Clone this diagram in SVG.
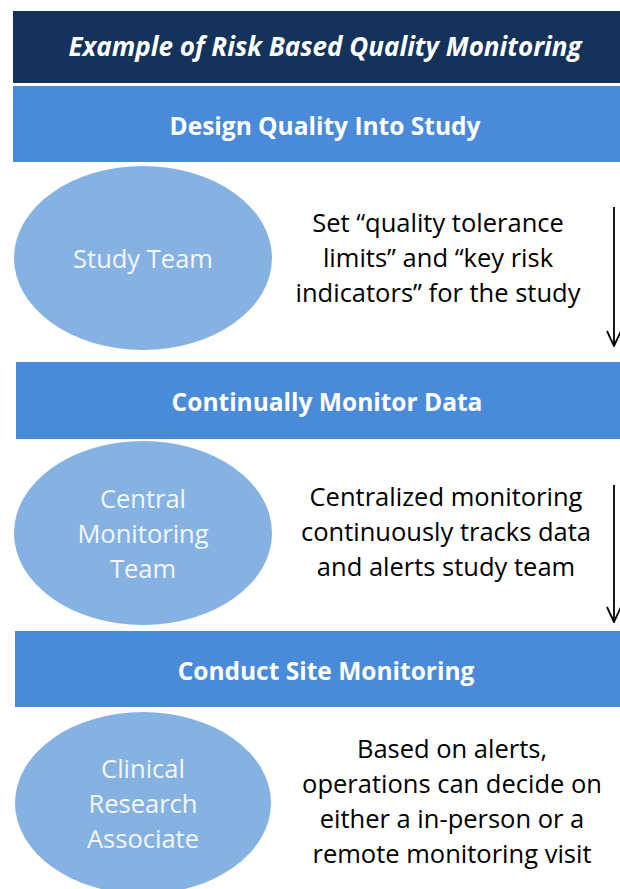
<svg xmlns="http://www.w3.org/2000/svg" width="620" height="889" viewBox="0 0 620 889">
  <style>
    .title { fill: #15335a; }
    .band { fill: #4a8bd9; }
    .oval { fill: #85b2e3; }
    .title-text { font-family: "Open Sans", "Noto Sans", sans-serif; font-size: 26px; font-weight: bold; font-style: italic; fill: #ffffff; text-anchor: middle; }
    .band-text { font-family: "Open Sans", "Noto Sans", sans-serif; font-size: 24.5px; font-weight: bold; fill: #ffffff; text-anchor: middle; }
    .oval-text { font-family: "Open Sans", "Noto Sans", sans-serif; font-size: 25.5px; fill: #f4f7fc; text-anchor: middle; }
    .note { font-family: "Open Sans", "Noto Sans", sans-serif; font-size: 25.5px; fill: #000000; text-anchor: middle; }
    .flow { stroke: #000000; stroke-width: 1.8; fill: none; }
  </style>
  <defs>
    <!-- open V arrowhead, drawn pointing along +x -->
    <marker id="vhead" viewBox="0 0 18 16" refX="17" refY="8" markerWidth="18" markerHeight="16" markerUnits="userSpaceOnUse" orient="auto">
      <path d="M2,1 L17,8 L2,15" fill="none" stroke="#000" stroke-width="1.8"/>
    </marker>
  </defs>

  <rect width="620" height="889" fill="#ffffff"/>

  <g id="title">
    <rect class="title" x="13" y="11" width="607" height="72"/>
    <text class="title-text" x="325" y="56">Example of Risk Based Quality Monitoring</text>
  </g>

  <g id="design-quality">
    <rect class="band" x="13" y="86" width="607" height="76"/>
    <text class="band-text" x="325" y="135">Design Quality Into Study</text>
  </g>

  <g id="study-team">
    <ellipse class="oval" cx="143" cy="258" rx="129" ry="92"/>
    <text class="oval-text" x="143" y="268">Study Team</text>
  </g>

  <g id="set-limits">
    <text class="note" x="438" y="232">Set “quality tolerance</text>
    <text class="note" x="438" y="267">limits” and “key risk</text>
    <text class="note" x="438" y="302">indicators” for the study</text>
  </g>

  <g id="monitor-data">
    <rect class="band" x="16" y="362" width="604" height="77"/>
    <text class="band-text" x="327" y="411">Continually Monitor Data</text>
  </g>

  <g id="central-team">
    <ellipse class="oval" cx="143" cy="533" rx="129" ry="92"/>
    <text class="oval-text" x="143" y="508">Central</text>
    <text class="oval-text" x="143" y="543">Monitoring</text>
    <text class="oval-text" x="143" y="578">Team</text>
  </g>

  <g id="centralized-note">
    <text class="note" x="446" y="506">Centralized monitoring</text>
    <text class="note" x="446" y="541">continuously tracks data</text>
    <text class="note" x="446" y="576">and alerts study team</text>
  </g>

  <g id="site-monitoring">
    <rect class="band" x="15" y="631" width="605" height="76"/>
    <text class="band-text" x="326" y="680">Conduct Site Monitoring</text>
  </g>

  <g id="cra">
    <ellipse class="oval" cx="143" cy="803" rx="128" ry="91"/>
    <text class="oval-text" x="143" y="778">Clinical</text>
    <text class="oval-text" x="143" y="813">Research</text>
    <text class="oval-text" x="143" y="848">Associate</text>
  </g>

  <g id="visit-note">
    <text class="note" x="452" y="758">Based on alerts,</text>
    <text class="note" x="452" y="793">operations can decide on</text>
    <text class="note" x="452" y="828">either a in-person or a</text>
    <text class="note" x="452" y="863">remote monitoring visit</text>
  </g>

  <g id="connectors">
    <line class="flow" x1="614" y1="207" x2="614" y2="346" marker-end="url(#vhead)"/>
    <line class="flow" x1="614" y1="485" x2="614" y2="622" marker-end="url(#vhead)"/>
  </g>
</svg>
